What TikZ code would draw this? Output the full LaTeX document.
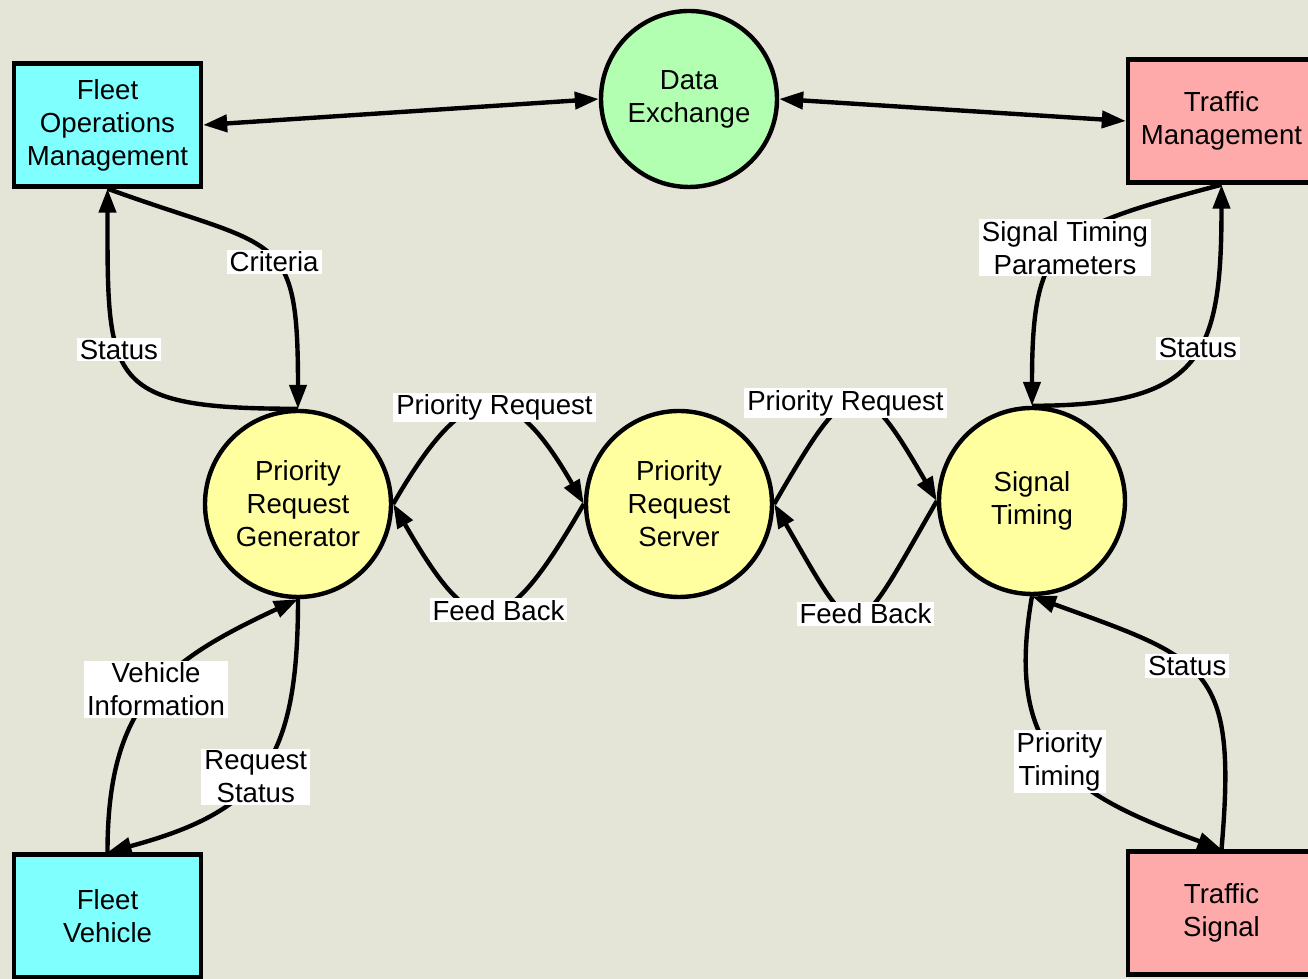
\documentclass[tikz,border=0pt]{standalone}
\usepackage{fontspec}
\setmainfont{Liberation Sans}
\usetikzlibrary{arrows.meta}

\definecolor{dfdback}{RGB}{229,229,215}
\definecolor{dfdcyan}{RGB}{128,255,255}
\definecolor{dfdpink}{RGB}{255,170,170}
\definecolor{dfdgreen}{RGB}{178,255,178}
\definecolor{dfdyellow}{RGB}{255,255,160}

\newcommand\dfdtextstyle{\fontsize{13.8}{16.5}\selectfont}
\newcommand\dfdlinewidth{2.2pt}
\newcommand\dfdboxwidth{93.5pt}
\newcommand\dfdboxheight{61.5pt}
\newcommand\dfdtip{Triangle[length=12pt, width=8.5pt]}

\tikzset{
  dfdbox/.style={draw, line width=\dfdlinewidth, minimum width=\dfdboxwidth,
    minimum height=\dfdboxheight, align=center, font=\dfdtextstyle},
  dfdproc/.style={circle, draw, line width=\dfdlinewidth, minimum size=93pt,
    inner sep=0pt, align=center, font=\dfdtextstyle, fill=dfdyellow},
  dfdflow/.style={line width=\dfdlinewidth, -{\dfdtip}},
  dfdboth/.style={line width=\dfdlinewidth, {\dfdtip}-{\dfdtip}},
  dfdlabel/.style={fill=white, inner xsep=1.5pt, inner ysep=1pt, align=center,
    font=\dfdtextstyle},
}

\begin{document}
\begin{tikzpicture}[x=0.5pt, y=0.5pt]
  \path[use as bounding box] (0, 0) rectangle (1308, 979);
  \fill[dfdback] (0, 0) rectangle (1308, 979);
  \clip (0, 0) rectangle (1308, 979);

  \node[dfdbox, fill=dfdcyan] (fom) at (107.5, 854) {Fleet\\Operations\\Management};
  \node[dfdproc, fill=dfdgreen, minimum size=88pt] (dx) at (689, 880) {Data\\Exchange};
  \node[dfdbox, fill=dfdpink] (tm) at (1221.5, 858) {Traffic\\Management};
  \node[dfdproc] (prg) at (298, 475) {Priority\\Request\\Generator};
  \node[dfdproc] (prs) at (679, 475) {Priority\\Request\\Server};
  \node[dfdproc] (st) at (1032, 478) {Signal\\Timing};
  \node[dfdbox, fill=dfdcyan] (fv) at (107.5, 63) {Fleet\\Vehicle};
  \node[dfdbox, fill=dfdpink] (ts) at (1221.5, 66) {Traffic\\Signal};

  \draw[dfdboth] (fom.east) -- (dx.west);
  \draw[dfdboth] (dx.east) -- (tm.west);

  \draw[dfdflow] (fom.south) to[out=-20, in=90, looseness=1.6]
    node[dfdlabel, pos=0.55] {Criteria} (prg.north);
  \draw[dfdflow] (prg.north) to[out=180, in=-90, looseness=1.7]
    node[dfdlabel, pos=0.6] {Status} (fom.south);

  \draw[dfdflow] (prg.east) to[out=60, in=120, looseness=2]
    node[dfdlabel, xshift=3pt] {Priority Request} (prs.west);
  \draw[dfdflow] (prs.west) to[out=-120, in=-60, looseness=2.2]
    node[dfdlabel, xshift=5pt] {Feed Back} (prg.east);
  \draw[dfdflow] (prs.east) to[out=60, in=120, looseness=2.4]
    node[dfdlabel, xshift=-5pt] {Priority Request} (st.west);
  \draw[dfdflow] (st.west) to[out=-120, in=-60, looseness=2.7]
    node[dfdlabel, xshift=5pt] {Feed Back} (prs.east);

  \draw[dfdflow] (tm.south) to[out=195, in=90, looseness=1.5]
    node[dfdlabel] {Signal Timing\\Parameters} (st.north);
  \draw[dfdflow] (st.north) to[out=0, in=-90, looseness=1.5]
    node[dfdlabel, pos=0.55] {Status} (tm.south);

  \draw[dfdflow] (fv.north) to[out=90, in=205, looseness=1.2]
    node[dfdlabel, pos=0.52] {Vehicle\\Information} (prg.south);
  \draw[dfdflow] (prg.south) to[out=-90, in=15, looseness=1.3]
    node[dfdlabel, pos=0.53] {Request\\Status} (fv.north);

  \draw[dfdflow] (st.south) to[out=-100, in=160, looseness=1.3]
    node[dfdlabel] {Priority\\Timing} (ts.north);
  \draw[dfdflow] (ts.north) to[out=85, in=-20, looseness=1.5]
    node[dfdlabel, pos=0.56] {Status} (st.south);
\end{tikzpicture}
\end{document}
